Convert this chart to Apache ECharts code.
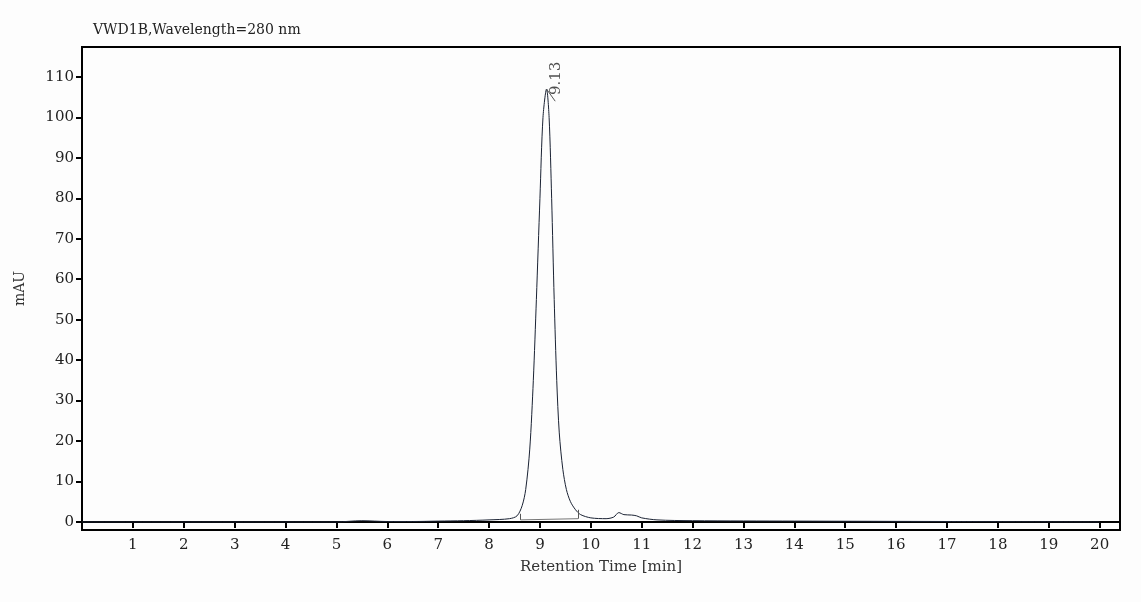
<!DOCTYPE html><html><head><meta charset="utf-8"><script src="https://cdn.jsdelivr.net/npm/echarts@6/dist/echarts.min.js"></script></head><body style="margin:0;background:#fdfdfd"><div id="c" style="width:1141px;height:602px"></div><script>
const times=[0,5,5.5,6,6.5,7,7.5,8,8.4,8.55,8.65,8.72,8.8,8.87,8.93,9.0,9.06,9.13,9.18,9.23,9.28,9.33,9.38,9.45,9.52,9.6,9.7,9.8,10,10.3,10.45,10.55,10.65,10.8,10.9,11,11.3,12,14,17,20];
const signal=[0,0,0.3,0.1,0.1,0.2,0.3,0.5,0.8,1.5,4,8,18,35,55,80,100,107,100,80,55,35,22,13,8,5,3,1.8,1,0.8,1.2,2.3,1.8,1.7,1.5,1,0.5,0.3,0.2,0.1,0];
const baseline=[[8.62,0.5],[9.75,0.8]];
const peakTime=9.13, peakHeight=107, peakLabel='9.13';
const xTicks=[1,2,3,4,5,6,7,8,9,10,11,12,13,14,15,16,17,18,19,20];
const yTicks=[0,10,20,30,40,50,60,70,80,90,100,110];
const f='"DejaVu Serif","Liberation Serif",serif';
const ch=echarts.init(document.getElementById('c'));
ch.setOption({animation:false,backgroundColor:'#fdfdfd',
title:{text:'VWD1B,Wavelength=280 nm',left:88,top:18,textStyle:{fontFamily:f,fontSize:14,fontWeight:'normal',color:'#222'}},
grid:{left:82,right:21,top:47,bottom:72,show:true,borderColor:'#000',borderWidth:2,backgroundColor:'#fdfdfd'},
xAxis:{type:'value',min:0,max:20.4,name:'Retention Time [min]',nameLocation:'middle',nameGap:30,nameTextStyle:{fontFamily:f,fontSize:15,color:'#333'},
axisLine:{lineStyle:{color:'#000',width:2}},axisTick:{length:6,customValues:xTicks,lineStyle:{color:'#000',width:2}},splitLine:{show:false},
axisLabel:{fontFamily:f,fontSize:15,color:'#222',customValues:xTicks}},
yAxis:{type:'value',min:-2,max:117.4,name:'mAU',nameLocation:'middle',nameGap:55,nameTextStyle:{fontFamily:f,fontSize:14,color:'#333'},
axisLine:{lineStyle:{color:'#000',width:2}},axisTick:{length:6,customValues:yTicks,lineStyle:{color:'#000',width:2}},splitLine:{show:false},
axisLabel:{fontFamily:f,fontSize:15,color:'#222',customValues:yTicks}},
series:[
{type:'line',data:times.map((t,i)=>[t,signal[i]]),symbol:'none',smooth:0.3,lineStyle:{color:'#1a2233',width:1}},
{type:'line',data:baseline,symbol:'none',lineStyle:{color:'#777',width:1},
 markLine:{symbol:'none',silent:true,label:{show:false},lineStyle:{color:'#555',width:1,type:'solid'},
 data:[[{coord:[8.62,0.5]},{coord:[8.62,2]}],[{coord:[9.75,0.8]},{coord:[9.75,3]}],[{coord:[9.13,107]},{coord:[9.3,104]}]]}},
{type:'scatter',data:[[peakTime,peakHeight]],symbolSize:0,label:{show:true,formatter:peakLabel,rotate:90,position:[10,6],align:'left',verticalAlign:'middle',fontFamily:f,fontSize:15,color:'#222'}}
]});
</script></body></html>
